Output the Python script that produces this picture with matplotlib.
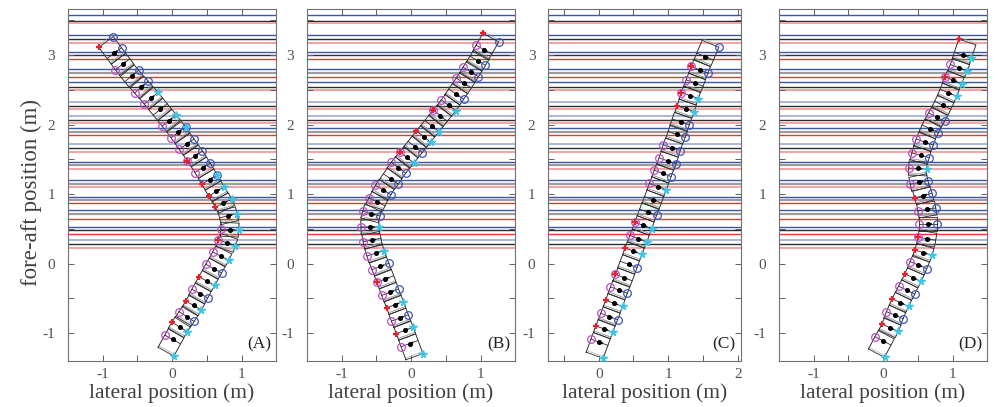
import matplotlib.pyplot as plt
import numpy as np

plt.rcParams['font.family'] = ['Liberation Serif', 'DejaVu Serif']

# fore-aft positions of the horizontal reference lines (m), and colour codes
line_y = [3.58, 3.49, 3.46, 3.29, 3.23, 3.18, 3.05, 3.00, 2.94,
          2.80, 2.75, 2.68, 2.62, 2.54, 2.50, 2.33, 2.27, 2.22,
          2.12, 2.07, 2.02, 1.95, 1.90, 1.85, 1.72, 1.66, 1.61,
          1.46, 1.42, 1.36, 1.20, 1.15, 1.10, 0.96, 0.92, 0.87,
          0.77, 0.72, 0.65, 0.53, 0.49, 0.43, 0.34, 0.28, 0.23]
line_code = ["B", "K", "r", "B", "K", "r", "B", "K", "R",
             "B", "k", "R", "B", "K", "r", "b", "K", "r",
             "b", "K", "r", "B", "k", "R", "b", "K", "r",
             "B", "k", "r", "B", "k", "r", "B", "k", "R",
             "B", "k", "R", "B", "K", "R", "b", "K", "r"]

# segment centres (lateral, fore-aft) for each trial, tail to head
a_x = [0.01, 0.11, 0.21, 0.31, 0.40, 0.50, 0.60, 0.70, 0.79, 0.83, 0.81, 0.74, 0.64,
       0.54, 0.44, 0.33, 0.21, 0.09, -0.04, -0.17, -0.30, -0.44, -0.58, -0.71, -0.83]
a_y = [-1.09, -0.91, -0.76, -0.60, -0.43, -0.25, -0.07, 0.11, 0.30, 0.49, 0.69, 0.87, 1.04,
       1.21, 1.38, 1.55, 1.72, 1.89, 2.06, 2.22, 2.38, 2.54, 2.70, 2.87, 3.03]
a_left = "mrmrmrmmxm-rrrmxmmm-mm-m-"
a_right = "-cbcbcbccccccxbbbxc-cbb-b"

b_x = [-0.02, -0.09, -0.16, -0.23, -0.30, -0.37, -0.44, -0.51, -0.56, -0.59, -0.57, -0.49, -0.40,
       -0.29, -0.18, -0.06, 0.06, 0.18, 0.30, 0.42, 0.54, 0.65, 0.76, 0.86, 0.96, 1.05]
b_y = [-1.15, -0.96, -0.78, -0.59, -0.41, -0.22, -0.04, 0.15, 0.34, 0.53, 0.72, 0.89, 1.06,
       1.22, 1.38, 1.53, 1.68, 1.83, 1.98, 2.13, 2.28, 2.44, 2.60, 2.76, 2.92, 3.08]
b_left = "mrmrmxmmmmmmm-mx-r-xm-mm-m"
b_right = "-cbcb-bc-cb-bbbcbcc-cb-bb-"

c_x = [0.01, 0.08, 0.15, 0.22, 0.29, 0.36, 0.43, 0.50, 0.57, 0.64, 0.71, 0.78,
       0.85, 0.92, 0.99, 1.05, 1.12, 1.18, 1.25, 1.31, 1.38, 1.45, 1.53]
c_y = [-1.13, -0.94, -0.76, -0.57, -0.38, -0.20, -0.01, 0.18, 0.36, 0.55, 0.74, 0.92,
       1.11, 1.30, 1.48, 1.67, 1.86, 2.04, 2.23, 2.42, 2.60, 2.79, 2.98]
c_left = "mrmrmx-rmx--mmmm--rxmx-"
c_right = "-cbcb-bcccb-cbbbbbcc-b-"

d_x = [0.00, 0.10, 0.17, 0.25, 0.34, 0.43, 0.51, 0.58, 0.63, 0.65, 0.63, 0.58,
       0.52, 0.50, 0.54, 0.60, 0.68, 0.77, 0.86, 0.94, 1.01, 1.09, 1.15]
d_y = [-1.11, -0.92, -0.74, -0.56, -0.38, -0.20, -0.02, 0.16, 0.36, 0.57, 0.78, 0.98,
       1.17, 1.37, 1.56, 1.75, 1.94, 2.11, 2.28, 2.46, 2.64, 2.82, 3.00]
d_left = "mrmrmrmrxmmrmmmm-m--xm-"
d_right = "-cbcbcbc-bbbbcbbbb-cccc"

# head corner markers (left, right) and tail marker
heads = [("r", "b"), ("r", "b"), ("-", "b"), ("r", "-")]
tails = ["c", "c", "c", "c"]
panel_labels = ["(A)", "(B)", "(C)", "(D)"]
xlims = [(-1.5, 1.5), (-1.5, 1.5), (-0.73, 2.04), (-1.5, 1.5)]
xtick_sets = [[-1.5, -1, -0.5, 0, 0.5, 1, 1.5],
              [-1.5, -1, -0.5, 0, 0.5, 1, 1.5],
              [-0.5, 0, 0.5, 1, 1.5, 2],
              [-1.5, -1, -0.5, 0, 0.5, 1, 1.5]]
yticks = [-1, -0.5, 0, 0.5, 1, 1.5, 2, 2.5, 3, 3.5]

line_colors = {"B": "#3d56a6", "b": "#a9b5da", "K": "#2e2e2e", "k": "#9c9c9c",
               "R": "#ec3434", "r": "#f5a3a3"}
line_widths = {"B": 1.0, "b": 1.4, "K": 1.0, "k": 1.6, "R": 1.0, "r": 1.4}

MAG, RED, BLU, CYA = "#c04cc4", "#e8202a", "#3a55c0", "#3ec3e2"
HW = 0.13  # half width of a segment


def mark(ax, p, code, side):
    if side == "L":
        if code in "mx":
            ax.plot(p[0], p[1], "o", ms=5.5, mfc="none", mec=MAG, mew=0.9, zorder=4)
        if code in "rx":
            ax.plot(p[0], p[1], "+", ms=5, color=RED, mew=1.6, zorder=5)
    else:
        if code in "bx":
            ax.plot(p[0], p[1], "o", ms=5.5, mfc="none", mec=BLU, mew=0.9, zorder=4)
        if code in "cx":
            ax.plot(p[0], p[1], "*", ms=5.5, color=CYA, mec=CYA, zorder=5)


def draw_body(ax, xs, ys, left, right, head, tail):
    pts = np.column_stack([xs, ys])
    n = len(pts)
    for i in range(n):
        a = pts[max(i - 1, 0)]
        b = pts[min(i + 1, n - 1)]
        t = (b - a) / np.linalg.norm(b - a)
        nr = np.array([t[1], -t[0]])
        c = pts[i]
        back = 0.2 if i == 0 else 0.1
        front = 0.2 if i == n - 1 else 0.1
        bl = c - back * t - HW * nr
        br = c - back * t + HW * nr
        fr = c + front * t + HW * nr
        fl = c + front * t - HW * nr
        poly = np.array([bl, br, fr, fl, bl])
        ax.plot(poly[:, 0], poly[:, 1], color="#2a2a2a", lw=0.6, zorder=3)
        # faint second outline, slightly shifted
        poly2 = poly + 0.025 * t
        ax.plot(poly2[:, 0], poly2[:, 1], color="#9a9a9a", lw=0.4, zorder=2.5)
        lp, rp = c - HW * nr, c + HW * nr
        ax.plot([lp[0], rp[0]], [lp[1], rp[1]], color="#2a2a2a", lw=0.6, zorder=3)
        ax.plot([c[0], c[0] + 0.04 * nr[0]], [c[1], c[1] + 0.04 * nr[1]],
                color="black", lw=1.3, zorder=4)
        ax.plot(c[0], c[1], "o", ms=2.6, color="black", zorder=4)
        mark(ax, lp, left[i], "L")
        mark(ax, rp, right[i], "R")
        if i == n - 1:
            mark(ax, fl, head[0], "L")
            mark(ax, fr, head[1], "R")
        if i == 0:
            mark(ax, br, tail, "R")


fig = plt.figure(figsize=(9.98, 4.07), dpi=100)
unit = 69.5
lefts_px = [67.75, 306.75, 548.0, 778.75]
bodies = [(a_x, a_y, a_left, a_right), (b_x, b_y, b_left, b_right),
          (c_x, c_y, c_left, c_right), (d_x, d_y, d_left, d_right)]
ylim = (-1.4, 3.66)

for k in range(4):
    xl = xlims[k]
    w = (xl[1] - xl[0]) * unit / 998
    h = (ylim[1] - ylim[0]) * unit / 407
    ax = fig.add_axes([lefts_px[k] / 998, 1 - 361 / 407, w, h])
    for yv, cd in zip(line_y, line_code):
        ax.axhline(yv, color=line_colors[cd], lw=line_widths[cd], zorder=1)
    bx, by, bl, br = bodies[k]
    draw_body(ax, bx, by, bl, br, heads[k], tails[k])
    ax.set_xlim(*xl)
    ax.set_ylim(*ylim)
    xt = xtick_sets[k]
    ax.set_xticks(xt)
    ax.set_xticklabels([f"{v:g}" if float(v).is_integer() else "" for v in xt])
    ax.set_yticks(yticks)
    ax.set_yticklabels([f"{v:g}" if float(v).is_integer() else "" for v in yticks])
    ax.tick_params(direction="in", length=4, width=0.7, top=True, right=True,
                   colors="#606060", labelcolor="#505050", labelsize=11)
    ax.tick_params(axis="y", pad=9)
    ax.tick_params(axis="x", pad=5)
    for sp in ax.spines.values():
        sp.set_color("#707070")
        sp.set_linewidth(0.8)
    ax.set_xlabel("lateral position (m)", fontsize=15.5, color="#404040", labelpad=2)
    if k == 0:
        ax.set_ylabel("fore-aft position (m)", fontsize=16.5, color="#404040")
        ax.yaxis.set_label_coords(-0.125, 0.479)
    ax.text(0.975, 0.025, panel_labels[k], transform=ax.transAxes, ha="right",
            va="bottom", fontsize=12.5, color="#222222")

fig.savefig("out.png", dpi=100)
